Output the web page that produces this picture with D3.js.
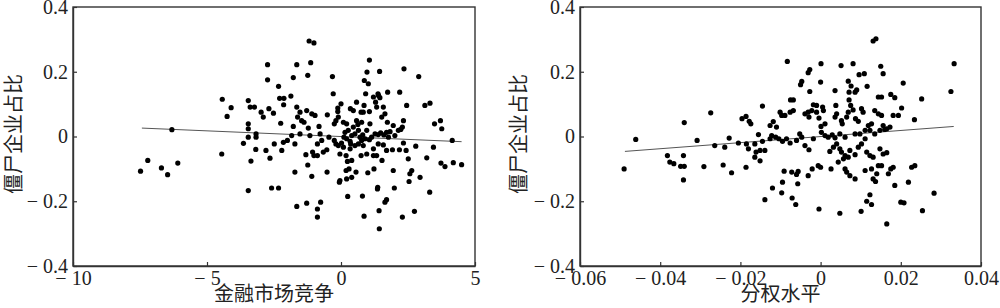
<!DOCTYPE html>
<html>
<head>
<meta charset="utf-8">
<script src="https://cdn.jsdelivr.net/npm/d3@7"></script>
<style>
  body { margin: 0; background: #fff; }
  svg { display: block; }
  .tick text { font-family: 'Liberation Serif', 'DejaVu Serif', serif; font-size: 20px; }
</style>
</head>
<body>
<script>
// ---- data ----
let yTickValues = [-0.4, -0.2, 0, 0.2, 0.4];
let yTickLabels = ['− 0.4', '− 0.2', '0', '0.2', '0.4'];

let compTickValues = [-10, -5, 0, 5];
let compTickLabels = ['− 10', '− 5', '0', '5'];

let decTickValues = [-0.06, -0.04, -0.02, 0, 0.02, 0.04];
let decTickLabels = ['− 0.06', '− 0.04', '− 0.02', '0', '0.02', '0.04'];

let yTitle = '僵尸企业占比';
let compTitle = '金融市场竞争';
let decTitle = '分权水平';

// fitted line end points [x, y]
let compFit = [[-7.43, 0.026], [4.50, -0.016]];
let decFit = [[-0.0488, -0.046], [0.0332, 0.031]];

// 金融市场竞争 vs 僵尸企业占比
let compPoints = [
 [-2.74,0.222],[-1.65,0.222],[-1.13,0.228],[1.06,0.236],[0.97,0.199],[1.44,0.201],[2.35,0.209],[2.90,0.185],
 [-0.32,0.185],[-1.24,0.189],[-1.78,0.182],[-2.74,0.175],[0.87,0.173],[1.02,0.163],[-2.33,0.155],[-0.29,0.132],
 [0.92,0.132],[1.38,0.132],[1.74,0.137],[2.19,0.137],[-2.29,0.118],[-2.13,0.118],[-1.87,0.125],[-2.14,0.098],
 [-3.46,0.111],[-3.39,0.091],[-3.23,0.091],[-4.10,0.089],[-2.98,0.075],[-2.90,0.060],[-2.69,0.086],[-2.52,0.072],
 [-2.25,0.041],[-1.78,0.031],[-1.65,0.091],[-1.53,0.075],[-1.62,0.060],[-1.28,0.080],[-1.09,0.070],[-0.97,0.065],
 [-1.47,0.049],[-1.38,0.044],[-1.22,0.026],[-0.82,0.031],[-0.51,0.067],[-0.12,0.088],[-0.12,0.077],[0,0.101],
 [-0.10,0.060],[-0.25,0.039],[-0.19,0.049],[0.09,0.044],[0.21,0.039],[0.35,0.086],[0.46,0.080],[0.58,0.106],
 [0.75,0.075],[0.83,0.075],[0.86,0.096],[0.58,0.049],[0.63,0.037],[1.06,0.077],[1.08,0.039],[1.29,0.106],
 [1.45,0.120],[1.40,0.127],[1.33,0.091],[1.58,0.091],[1.64,0.070],[1.52,0.060],[1.21,0.122],[1.73,0.044],
 [1.95,0.034],[2.33,0.049],[2.29,0.029],[2.45,0.096],[3.13,0.096],[3.32,0.103],[3.49,0.039],[3.71,0.049],
 [3.76,0.024],[-3.46,0.039],[-3.46,0.024],[-3.46,-0.002],[-3.17,0.008],[-3.17,-0.002],[-3.64,-0.021],[-3.18,-0.040],
 [-2.80,-0.043],[-2.49,-0.023],[-2.21,-0.043],[-2.15,-0.018],[-2.00,-0.012],[-1.72,-0.023],[-1.84,0.003],[-1.53,0.008],
 [-1.16,0.003],[-0.78,0.008],[-0.72,-0.012],[-0.88,-0.023],[-0.45,-0.002],[-0.25,-0.012],[-0.19,-0.023],[-0.53,-0.041],
 [-0.66,-0.048],[-1.06,-0.048],[-1.01,-0.059],[-1.31,-0.056],[-0.88,-0.059],[-0.04,-0.054],[0.09,-0.033],[0.34,-0.038],
 [0.36,-0.023],[0.21,-0.007],[0.11,-0.002],[0.40,0.003],[0.52,0.008],[0.65,-0.023],[0.77,-0.012],[0.81,0.005],
 [0.90,-0.007],[1.06,-0.010],[1.14,-0.002],[1.27,0.008],[1.39,0.006],[1.48,0.011],[1.70,0.013],[1.83,0.015],
 [1.60,0.005],[1.77,-0.002],[2.01,0.003],[2.14,0.019],[2.23,0.022],[1.39,-0.023],[1.58,-0.026],[1.21,-0.038],
 [1.33,-0.059],[1.70,-0.043],[1.92,-0.041],[2.18,-0.041],[2.43,-0.043],[2.33,-0.020],[2.79,-0.030],[3.45,-0.033],
 [4.15,-0.012],[0.19,-0.059],[0.24,-0.077],[0.40,-0.074],[0.75,-0.059],[0.96,-0.054],[1.21,-0.059],[1.53,-0.074],
 [2.51,-0.069],[3.20,-0.066],[3.73,-0.082],[3.88,-0.093],[4.19,-0.081],[4.50,-0.087],[-3.36,-0.076],[-2.65,-0.067],
 [-1.72,-0.110],[-1.24,-0.088],[-1.09,-0.123],[-0.52,-0.110],[0.19,-0.105],[0.30,-0.100],[0.40,-0.126],[0.56,-0.110],
 [1.00,-0.112],[1.23,-0.100],[1.95,-0.105],[2.57,-0.115],[2.64,-0.105],[2.95,-0.126],[2.54,-0.139],[-0.06,-0.141],
 [-0.04,-0.136],[0.21,-0.131],[-3.46,-0.167],[-2.59,-0.159],[-2.33,-0.159],[-1.65,-0.216],[-1.28,-0.206],[-0.88,-0.224],
 [-0.88,-0.249],[-0.76,-0.203],[0.25,-0.185],[0.80,-0.184],[0.86,-0.246],[1.37,-0.157],[1.36,-0.162],[1.64,-0.203],
 [1.70,-0.195],[1.42,-0.229],[1.99,-0.159],[2.29,-0.249],[2.74,-0.231],[3.31,-0.172],[1.43,-0.285],
 [-6.31,0.021],[-4.43,0.115],[-4.25,0.062],[-7.48,-0.107],[-7.21,-0.074],[-6.70,-0.097],[-6.47,-0.118],[-6.09,-0.082],
 [-4.45,-0.054],[-1.19,0.295],[-1.01,0.289],
 [0.15,0.013],[0.27,0.019],[0.46,0.029],[0.65,0.019],[0.71,-0.002],[0.34,-0.015],[0.52,-0.028],[0.83,-0.028],
 [0.02,-0.020],[-0.10,-0.028],[0.96,0.019],[0.77,0.044]
];

// 分权水平 vs 僵尸企业占比
let decPoints = [
 [-0.0083,0.232],[0.0001,0.225],[0.0051,0.219],[0.0081,0.225],[0.0150,0.217],[0.0333,0.225],[-0.0027,0.207],[-0.0031,0.197],
 [0.0109,0.194],[0.0096,0.191],[0.0156,0.194],[-0.0047,0.170],[-0.0050,0.160],[0,0.168],[0.0069,0.171],[0.0076,0.156],
 [0.0116,0.155],[0.0206,0.165],[-0.0027,0.139],[0.0036,0.142],[0.0090,0.144],[0.0086,0.137],[0.0071,0.137],[0.0325,0.139],
 [0.0144,0.122],[0.0152,0.122],[0.0175,0.130],[0.0185,0.120],[0.0252,0.116],[-0.0075,0.113],[-0.0068,0.113],[0.0071,0.113],
 [0.0075,0.096],[-0.0145,0.094],[-0.0018,0.098],[-0.0010,0.096],[0.0005,0.091],[0.0007,0.080],[0.0038,0.096],[0.0202,0.088],
 [-0.0274,0.073],[-0.0196,0.055],[-0.0186,0.062],[-0.0174,0.039],[-0.0178,0.047],[-0.0126,0.034],[-0.0118,0.046],[-0.0110,0.029],
 [-0.0101,0.075],[-0.0097,0.065],[-0.0089,0.065],[-0.0076,0.075],[-0.0068,0.080],[-0.0039,0.070],[-0.0031,0.075],[-0.0022,0.080],
 [-0.0029,0.060],[-0.0010,0.075],[-0.0004,0.057],[0.0001,0.031],[0.0011,0.039],[0.0036,0.060],[0.0040,0.070],[0.0052,0.049],
 [0.0054,0.039],[0.0065,0.060],[0.0087,0.055],[0.0094,0.047],[0.0102,0.086],[0.0106,0.075],[0.0119,0.034],[0.0127,0.039],
 [0.0135,0.080],[0.0144,0.070],[0.0152,0.065],[0.0156,0.034],[0.0165,0.024],[0.0181,0.065],[0.0194,0.065],[0.0234,0.052],
 [0.0069,0.075],[0.0081,0.082],[-0.0155,0.006],[-0.0145,-0.015],[-0.0126,-0.007],[-0.0122,0.003],[-0.0112,-0.002],[-0.0104,-0.007],
 [-0.0095,-0.015],[-0.0085,-0.007],[-0.0076,-0.020],[-0.0060,-0.012],[-0.0052,0.008],[-0.0047,-0.002],[-0.0039,-0.028],[-0.0029,-0.041],
 [-0.0018,-0.007],[0.0002,0.013],[0.0011,0.003],[0.0019,-0.002],[0.0029,0.005],[0.0036,-0.004],[0.0048,0.008],[0.0061,-0.002],
 [0.0086,0.008],[0.0098,0.008],[0.0111,0.019],[0.0123,0.019],[0.0135,0.008],[0.0148,0.019],[0.0160,0.022],[0.0173,0.029],
 [-0.0264,-0.028],[-0.0239,-0.033],[-0.0228,-0.005],[-0.0205,-0.020],[-0.0185,-0.023],[-0.0180,-0.038],[-0.0164,-0.023],[-0.0161,-0.048],
 [-0.0151,-0.043],[-0.0139,-0.043],[-0.0164,-0.064],[-0.0151,-0.075],[-0.0291,-0.093],[-0.0243,-0.088],[-0.0222,-0.112],[-0.0186,-0.095],
 [-0.0091,-0.107],[-0.0072,-0.110],[-0.0060,-0.117],[-0.0056,-0.108],[-0.0031,-0.121],[-0.0021,-0.100],[-0.0006,-0.090],[0,-0.095],
 [0.0023,-0.046],[0.0032,-0.033],[0.0040,-0.023],[0.0048,-0.038],[0.0052,-0.048],[0.0061,-0.059],[0.0044,-0.079],[0.0057,-0.069],
 [0.0069,-0.064],[0.0073,-0.043],[0.0086,-0.056],[0.0094,-0.033],[0.0102,-0.023],[0.0111,-0.007],[0.0115,-0.048],[0.0123,-0.059],
 [0.0131,-0.064],[0.0148,-0.038],[0.0156,-0.054],[0.0165,-0.050],[0.0144,-0.090],[0.0152,-0.090],[0.0175,-0.100],[0.0181,-0.095],
 [0.0227,-0.095],[0.0235,-0.090],[0.0026,-0.100],[0.0061,-0.100],[0.0065,-0.110],[0.0073,-0.121],[0.0086,-0.131],[0.0111,-0.105],
 [0.0127,-0.100],[0.0131,-0.131],[0.0137,-0.139],[0.0140,-0.115],[0.0169,-0.115],[0.0219,-0.141],[0.0185,-0.151],[-0.0095,-0.141],
 [-0.0120,-0.159],[-0.0097,-0.174],[-0.0057,-0.146],[-0.0139,-0.195],[-0.0071,-0.190],[-0.0062,-0.210],[-0.0004,-0.224],[0.0048,-0.237],
 [0.0101,-0.231],[0.0115,-0.200],[0.0127,-0.210],[0.0123,-0.180],[0.0200,-0.203],[0.0208,-0.205],[0.0254,-0.229],[0.0283,-0.175],
 [0.0165,-0.270],
 [-0.0461,-0.009],[-0.0340,0.043],[-0.0308,-0.012],[-0.0490,-0.100],[-0.0382,-0.059],[-0.0376,-0.079],[-0.0366,-0.084],[-0.0342,-0.059],
 [-0.0349,-0.092],[-0.0340,-0.092],[-0.0342,-0.134],[0.0138,0.302],[0.0131,0.295]
];

// ---- layout ----
let w = 1000;
let h = 308;

let svg = d3.select('body')
            .append('svg')
            .attr('width', w)
            .attr('height', h);

let serifFont = "'Liberation Serif', 'DejaVu Serif', serif";
let cjkFont = "'Noto Sans CJK SC', sans-serif";

let drawPanel = (opt) => {

  let xScale = d3.scaleLinear().domain(opt.xDomain).range([opt.left, opt.right]);
  let yScale = d3.scaleLinear().domain([-0.4, 0.4]).range([266, 7]);

  let g = svg.append('g');

  // frame
  g.append('rect')
   .attr('x', opt.left)
   .attr('y', yScale(0.4))
   .attr('width', opt.right - opt.left)
   .attr('height', yScale(-0.4) - yScale(0.4))
   .attr('fill', 'none')
   .attr('stroke', '#333')
   .attr('stroke-width', 1.4);

  // fitted line
  g.append('line')
   .attr('x1', xScale(opt.fit[0][0]))
   .attr('y1', yScale(opt.fit[0][1]))
   .attr('x2', xScale(opt.fit[1][0]))
   .attr('y2', yScale(opt.fit[1][1]))
   .attr('stroke', '#555')
   .attr('stroke-width', 1);

  g.selectAll('circle')
   .data(opt.points)
   .enter()
   .append('circle')
   .attr('cx', d => xScale(d[0]))
   .attr('cy', d => yScale(d[1]))
   .attr('r', 2.6)
   .attr('fill', '#000');

  // ticks point inward, labels outside
  let xAxis = d3.axisBottom(xScale)
                .tickValues(opt.xTicks)
                .tickFormat((d, i) => opt.xLabels[i])
                .tickSizeInner(-4)
                .tickSizeOuter(0)
                .tickPadding(5);

  let yAxis = d3.axisLeft(yScale)
                .tickValues(yTickValues)
                .tickFormat((d, i) => yTickLabels[i])
                .tickSizeInner(-4)
                .tickSizeOuter(0)
                .tickPadding(5);

  let gx = g.append('g')
            .attr('transform', 'translate(0,' + yScale(-0.4) + ')')
            .call(xAxis);

  let gy = g.append('g')
            .attr('transform', 'translate(' + opt.left + ',0)')
            .call(yAxis);

  [gx, gy].forEach(a => {
    a.attr('font-family', serifFont).attr('font-size', 20);
    a.selectAll('path').attr('stroke', '#333').attr('stroke-width', 1.4);
    a.selectAll('line').attr('stroke', '#333').attr('stroke-width', 1.2);
    a.selectAll('text')
     .attr('fill', '#222')
     .attr('font-family', serifFont)
     .attr('font-size', 20);
  });

  // axis titles
  g.append('text')
   .attr('x', (opt.left + opt.right) / 2)
   .attr('y', 301)
   .attr('text-anchor', 'middle')
   .attr('font-family', cjkFont)
   .attr('font-size', 20)
   .attr('fill', '#222')
   .text(opt.xTitle);

  g.append('text')
   .attr('transform', 'translate(' + opt.yTitleX + ',' + 134 + ') rotate(-90)')
   .attr('text-anchor', 'middle')
   .attr('font-family', cjkFont)
   .attr('font-size', 20)
   .attr('fill', '#222')
   .text(yTitle);
};

drawPanel({
  left: 73, right: 475,
  xDomain: [-10, 5],
  xTicks: compTickValues,
  xLabels: compTickLabels,
  xTitle: compTitle,
  yTitleX: 21,
  fit: compFit,
  points: compPoints
});

drawPanel({
  left: 580, right: 981,
  xDomain: [-0.06, 0.04],
  xTicks: decTickValues,
  xLabels: decTickLabels,
  xTitle: decTitle,
  yTitleX: 526,
  fit: decFit,
  points: decPoints
});
</script>
</body>
</html>
